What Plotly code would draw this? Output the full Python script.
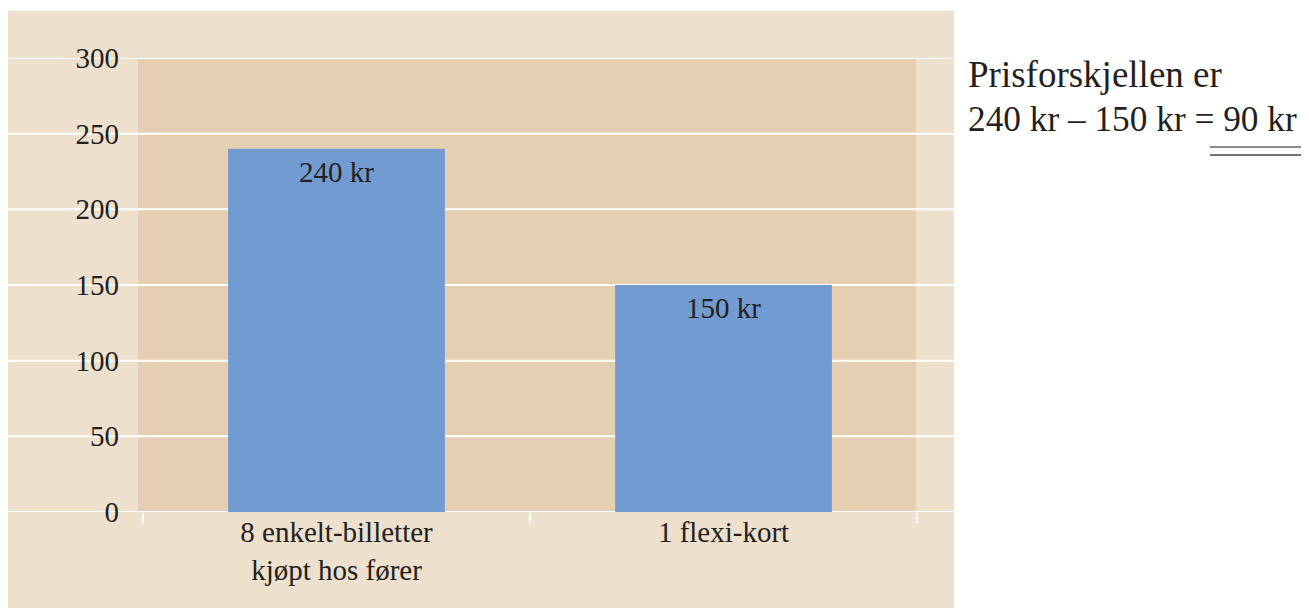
import plotly.graph_objects as go

categories = ["8 enkelt-billetter<br>kjøpt hos fører", "1 flexi-kort"]
values = [240, 150]
bar_labels = ["240 kr", "150 kr"]
y_ticks = [0, 50, 100, 150, 200, 250, 300]
note_lines = ["Prisforskjellen er", "240 kr – 150 kr = 90 kr"]

OFF = 8  # default page body margin
W, H = 1309 - OFF, 608 - OFF
L, R, T, B = 143 - OFF, 917 - OFF, 58 - OFF, 512 - OFF  # plot area in fig px


def px_x(p):
    return (p - OFF - L) / (R - L)


def px_y(p):
    return (B - (p - OFF)) / (B - T)


FONT = "Liberation Serif, Times New Roman, serif"
TXT = "#231f20"

fig = go.Figure(
    go.Bar(
        x=categories,
        y=values,
        marker=dict(color="#729bd1", line=dict(width=0)),
        width=0.56,
        hoverinfo="skip",
    )
)

shapes = [
    dict(type="rect", xref="paper", yref="paper",
         x0=px_x(8), x1=px_x(954), y0=px_y(640), y1=px_y(11),
         fillcolor="#ede0cd", line=dict(width=0), layer="below"),
    dict(type="rect", xref="paper", yref="paper",
         x0=px_x(138), x1=px_x(916), y0=0, y1=1,
         fillcolor="#e5cfb2", line=dict(width=0), layer="below"),
]
for t in y_ticks:
    shapes.append(dict(type="line", xref="paper", yref="y",
                       x0=px_x(8), x1=px_x(954), y0=t, y1=t,
                       line=dict(color="white", width=2), layer="below"))
# double underline under result
shapes.append(dict(type="line", xref="paper", yref="paper",
                   x0=px_x(1210), x1=px_x(1309), y0=px_y(147), y1=px_y(147),
                   line=dict(color="#8a8a8a", width=2)))
shapes.append(dict(type="line", xref="paper", yref="paper",
                   x0=px_x(1210), x1=px_x(1309), y0=px_y(155), y1=px_y(155),
                   line=dict(color="#444444", width=1.5)))

annotations = [
    dict(text=note_lines[0], xref="paper", yref="paper",
         x=px_x(966), y=px_y(52), xanchor="left", yanchor="top",
         align="left", showarrow=False,
         font=dict(family=FONT, size=37, color=TXT)),
    dict(text=note_lines[1], xref="paper", yref="paper",
         x=px_x(966), y=px_y(98), xanchor="left", yanchor="top",
         align="left", showarrow=False,
         font=dict(family=FONT, size=35.3, color=TXT)),
]
for c, v, lab in zip(categories, values, bar_labels):
    annotations.append(dict(text=lab, x=c, y=v, xref="x", yref="y",
                            xanchor="center", yanchor="top", yshift=-5,
                            showarrow=False,
                            font=dict(family=FONT, size=29, color=TXT)))

fig.update_layout(
    width=W, height=H,
    margin=dict(l=L, r=W - R, t=T, b=H - B, pad=0),
    paper_bgcolor="white",
    plot_bgcolor="rgba(0,0,0,0)",
    showlegend=False,
    shapes=shapes,
    annotations=annotations,
    xaxis=dict(
        type="category",
        range=[-0.5, 1.5],
        showgrid=False,
        showline=False,
        zeroline=False,
        ticks="outside",
        tickson="boundaries",
        ticklen=10,
        tickwidth=2,
        tickcolor="white",
        tickfont=dict(family=FONT, size=29, color=TXT),
        fixedrange=True,
    ),
    yaxis=dict(
        range=[0, 300],
        tickvals=y_ticks,
        showgrid=False,
        zeroline=False,
        showline=False,
        ticks="",
        ticklabelstandoff=23,
        tickfont=dict(family=FONT, size=29, color=TXT),
        fixedrange=True,
    ),
)

fig.write_html("out.html")
